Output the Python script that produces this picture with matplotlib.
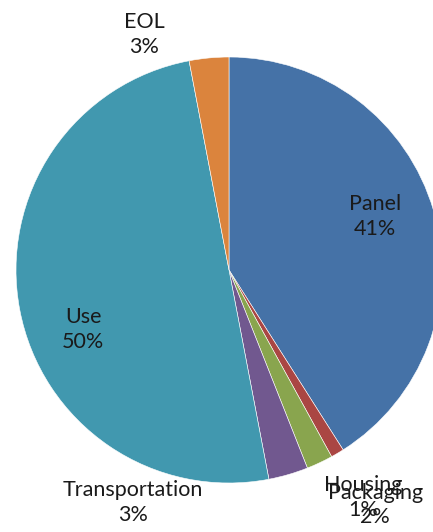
import matplotlib.pyplot as plt
import numpy as np

labels = ["Panel", "Housing", "Packaging", "Transportation", "Use", "EOL"]
values = [41, 1, 2, 3, 50, 3]
colors = ["#4572A7", "#AA4643", "#89A54E", "#71588F", "#4198AF", "#DB843D"]

# label distance (fraction of radius) and angle shift (deg) per slice
label_r = [0.73, 1.24, 1.30, 1.18, 0.74, 1.177]
label_shift = [4, 0, 6.7, -38.6, 11.5, 14.4]

W, H = 433, 532
fig = plt.figure(figsize=(W / 100, H / 100), dpi=100)
ax = fig.add_axes([0, 0, 1, 1])

cx, cy, R = 229, 262, 213
wedges, _ = ax.pie(values, colors=colors, startangle=90, counterclock=False,
                   center=(cx, cy), radius=R, frame=True,
                   wedgeprops=dict(edgecolor="white", linewidth=0.4))
ax.set_xlim(0, W)
ax.set_ylim(0, H)
ax.axis("off")

total = sum(values)
for w, lab, v, rf, sh in zip(wedges, labels, values, label_r, label_shift):
    ang = np.deg2rad((w.theta1 + w.theta2) / 2 + sh)
    x = cx + rf * R * np.cos(ang)
    y = cy + rf * R * np.sin(ang)
    ax.text(x, y, f"{lab}\n{round(v / total * 100)}%", ha="center", va="center",
            fontsize=15.5, family="Lato", color="#1a1a1a", linespacing=1.3)

plt.savefig("out.png", dpi=100)
